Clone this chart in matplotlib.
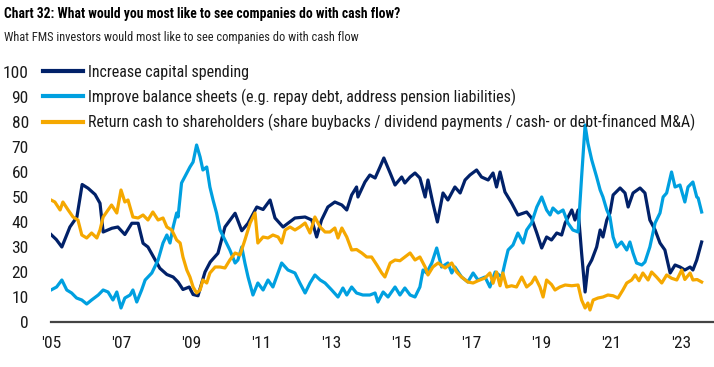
import matplotlib.pyplot as plt

# FMS: what investors want companies to do with cash flow (% of respondents)
capex_years = [2005.00, 2005.15, 2005.31, 2005.54, 2005.74, 2005.89, 2006.06, 2006.26, 2006.40, 2006.49,
               2006.74, 2006.91, 2007.11, 2007.31, 2007.49, 2007.63, 2007.77, 2007.97, 2008.11, 2008.31,
               2008.49, 2008.63, 2008.77, 2008.95, 2009.06, 2009.20, 2009.40, 2009.55, 2009.77, 2009.97,
               2010.26, 2010.45, 2010.63, 2010.88, 2011.06, 2011.26, 2011.40, 2011.63, 2011.97, 2012.26,
               2012.45, 2012.59, 2012.73, 2012.91, 2013.11, 2013.31, 2013.45, 2013.59, 2013.73, 2013.77,
               2013.97, 2014.11, 2014.26, 2014.40, 2014.51, 2014.69, 2014.83, 2015.02, 2015.11, 2015.26,
               2015.40, 2015.54, 2015.69, 2015.77, 2015.91, 2016.04, 2016.20, 2016.34, 2016.54, 2016.69,
               2016.83, 2016.97, 2017.16, 2017.30, 2017.49, 2017.63, 2017.73, 2017.83, 2017.97, 2018.16,
               2018.34, 2018.59, 2018.73, 2018.88, 2019.02, 2019.16, 2019.30, 2019.45, 2019.59, 2019.69,
               2019.88, 2019.97, 2020.06, 2020.16, 2020.26, 2020.34, 2020.45, 2020.59, 2020.69, 2020.77,
               2020.88, 2020.97, 2021.06, 2021.26, 2021.40, 2021.49, 2021.63, 2021.83, 2021.97, 2022.11,
               2022.26, 2022.40, 2022.54, 2022.69, 2022.83, 2022.97, 2023.11, 2023.26, 2023.34, 2023.45,
               2023.59]
capex = [35, 33, 30, 38, 42, 55, 53.5, 51, 47.5, 36,
         37.5, 38, 35, 39.5, 39.5, 31.5, 30, 25, 21.5, 19,
         18, 16, 13, 14, 11, 10.5, 20, 24, 27.5, 38,
         43.5, 36.5, 39.5, 46, 45, 48.8, 41.6, 38, 41.6, 42,
         40.8, 34, 40.8, 46, 48, 46.8, 44.8, 50.8, 54, 50,
         56, 58.8, 57.6, 62, 65.6, 59.6, 54.8, 58, 55.6, 58,
         59.6, 57.6, 50, 56.8, 47.6, 40, 51.6, 48.8, 54, 51.6,
         56.8, 58.8, 60.8, 58, 56.8, 59.6, 54, 60, 52, 47.6,
         42.8, 44, 41.6, 35.6, 29.6, 34, 32.8, 35.6, 34.8, 39.6,
         44.8, 40.8, 44.8, 27.6, 12, 22, 24.8, 30, 36.8, 34,
         40.8, 43.6, 50.8, 53.6, 51.6, 46, 51.6, 53.6, 51.6, 40.8,
         36.8, 31.6, 28.8, 19.6, 22.8, 22, 20.8, 22, 20.8, 24.8,
         32]

balance_years = [2005.00, 2005.16, 2005.31, 2005.45, 2005.59, 2005.73, 2005.88, 2006.02, 2006.16, 2006.35,
                 2006.49, 2006.63, 2006.77, 2006.88, 2007.00, 2007.11, 2007.26, 2007.34, 2007.45, 2007.59,
                 2007.69, 2007.88, 2008.06, 2008.20, 2008.31, 2008.40, 2008.49, 2008.59, 2008.63, 2008.73,
                 2008.88, 2008.97, 2009.06, 2009.16, 2009.26, 2009.34, 2009.45, 2009.54, 2009.63, 2009.73,
                 2009.83, 2009.97, 2010.11, 2010.26, 2010.34, 2010.45, 2010.54, 2010.63, 2010.77, 2010.91,
                 2011.06, 2011.20, 2011.34, 2011.59, 2011.77, 2011.97, 2012.11, 2012.26, 2012.40, 2012.54,
                 2012.69, 2012.83, 2013.02, 2013.20, 2013.34, 2013.45, 2013.59, 2013.73, 2013.91, 2014.11,
                 2014.26, 2014.34, 2014.49, 2014.63, 2014.83, 2014.97, 2015.11, 2015.26, 2015.40, 2015.54,
                 2015.63, 2015.73, 2015.88, 2016.02, 2016.16, 2016.34, 2016.45, 2016.54, 2016.73, 2016.91,
                 2017.06, 2017.20, 2017.40, 2017.54, 2017.69, 2017.88, 2017.97, 2018.06, 2018.20, 2018.34,
                 2018.49, 2018.59, 2018.73, 2018.88, 2019.02, 2019.16, 2019.26, 2019.34, 2019.49, 2019.63,
                 2019.77, 2019.91, 2020.06, 2020.16, 2020.26, 2020.34, 2020.45, 2020.59, 2020.69, 2020.77,
                 2020.88, 2020.97, 2021.06, 2021.16, 2021.30, 2021.45, 2021.54, 2021.63, 2021.73, 2021.88,
                 2021.97, 2022.11, 2022.26, 2022.40, 2022.49, 2022.59, 2022.73, 2022.83, 2022.97, 2023.11,
                 2023.20, 2023.34, 2023.45, 2023.49, 2023.59]
balance = [12.8, 14, 16.8, 12.8, 11.6, 9.6, 8.8, 7.2, 8.8, 10.8,
           12.8, 12, 8.8, 12, 5.6, 9.6, 10.8, 12.8, 8, 12.8,
           16.8, 19.6, 24.8, 31.6, 34.8, 31.6, 38, 43.6, 42, 55.6,
           59.6, 62, 64, 70.8, 66, 60.8, 62, 54, 48.8, 43.6,
           36.8, 32.8, 28.8, 23.6, 24.8, 30, 23.6, 18, 10.8, 15.6,
           12.8, 16.8, 14, 23.6, 20.8, 19.6, 15.6, 11.6, 15.6, 18.8,
           16.8, 15.6, 12.8, 10, 13.6, 10.8, 14, 11.6, 10.8, 10.8,
           11.6, 8, 12, 10, 14, 10.8, 13.6, 10.8, 10, 14,
           20.8, 19.6, 23.6, 29.6, 22, 23.6, 19.6, 22, 18, 16,
           19.6, 16.8, 18, 14, 20, 18, 23.6, 28.8, 30.8, 35.6,
           31.6, 36.8, 39.6, 46, 50, 44.8, 42.8, 45.6, 43.6, 44.8,
           39.6, 36.8, 36, 58, 78.8, 71.6, 64.8, 58, 52.8, 50,
           44.8, 42, 34, 30, 32, 28.8, 32, 27.6, 23.6, 22.8,
           24, 30, 39.6, 43.6, 50, 51.6, 60, 54, 54.8, 48,
           54, 56, 50, 49.6, 44]

returns_years = [2005.00, 2005.11, 2005.26, 2005.34, 2005.49, 2005.63, 2005.77, 2005.88, 2006.02, 2006.16,
                 2006.31, 2006.40, 2006.49, 2006.59, 2006.73, 2006.88, 2007.00, 2007.11, 2007.20, 2007.34,
                 2007.49, 2007.63, 2007.77, 2007.91, 2008.06, 2008.20, 2008.31, 2008.45, 2008.59, 2008.69,
                 2008.77, 2008.88, 2008.97, 2009.06, 2009.16, 2009.26, 2009.34, 2009.45, 2009.54, 2009.69,
                 2009.83, 2009.97, 2010.11, 2010.26, 2010.40, 2010.54, 2010.69, 2010.83, 2010.91, 2011.06,
                 2011.20, 2011.34, 2011.49, 2011.59, 2011.69, 2011.83, 2011.97, 2012.11, 2012.26, 2012.40,
                 2012.54, 2012.69, 2012.83, 2012.97, 2013.11, 2013.20, 2013.31, 2013.45, 2013.59, 2013.73,
                 2013.88, 2014.02, 2014.16, 2014.31, 2014.45, 2014.54, 2014.69, 2014.83, 2014.97, 2015.11,
                 2015.26, 2015.40, 2015.54, 2015.69, 2015.77, 2015.91, 2016.06, 2016.26, 2016.45, 2016.59,
                 2016.73, 2016.91, 2017.06, 2017.20, 2017.40, 2017.54, 2017.63, 2017.73, 2017.83, 2017.91,
                 2018.02, 2018.16, 2018.30, 2018.45, 2018.59, 2018.73, 2018.83, 2018.97, 2019.06, 2019.16,
                 2019.30, 2019.40, 2019.54, 2019.69, 2019.88, 2020.06, 2020.16, 2020.26, 2020.34, 2020.40,
                 2020.49, 2020.63, 2020.77, 2020.91, 2021.06, 2021.20, 2021.34, 2021.45, 2021.59, 2021.69,
                 2021.80, 2021.91, 2022.06, 2022.16, 2022.30, 2022.45, 2022.59, 2022.73, 2022.88, 2023.02,
                 2023.11, 2023.26, 2023.34, 2023.46, 2023.59]
returns = [48.8, 48, 44.8, 48, 44.8, 42, 40.8, 34.8, 33.6, 35.6,
           33.6, 36.8, 42, 44, 46.8, 43.6, 52.8, 48, 48.8, 42,
           41.6, 42.8, 40.8, 44, 40.8, 41.6, 38, 36.8, 32.8, 31.6,
           26, 20.8, 18, 14, 11.6, 12.8, 16.8, 15.6, 19.6, 22,
           22, 21.6, 24.8, 27.6, 26.8, 32.8, 39.6, 43.6, 31.6, 34,
           33.6, 34.8, 34, 31.6, 36.8, 38, 36.8, 38, 39.6, 35.6,
           42, 38, 36, 36, 37.6, 33.6, 37.6, 34, 28.8, 29,
           27.6, 26, 26, 22.8, 19.6, 18, 23.6, 24.8, 24.5, 26,
           27.6, 24.8, 26, 22, 18.8, 22, 23.6, 21.6, 23.6, 20,
           18, 16, 15.6, 16.5, 17.6, 19.6, 15.5, 20, 14.5, 19.6,
           14, 14.5, 14, 18, 14, 15.6, 18, 14, 10, 16.8,
           15, 12.8, 14, 14.8, 14.5, 14.8, 8.8, 5.6, 7.6, 4.8,
           8.8, 9.6, 10, 10.8, 10.5, 9.6, 12.8, 15.6, 16.8, 18.8,
           16.5, 19.6, 16.8, 20, 18, 15.6, 18.8, 17.5, 16.8, 20.8,
           17, 19.6, 16.8, 17, 16]

labels = ['Increase capital spending',
          'Improve balance sheets (e.g. repay debt, address pension liabilities)',
          'Return cash to shareholders (share buybacks / dividend payments / cash- or debt-financed M&A)']
colors = ['#012169', '#00A0E0', '#F5A800']

yticks = list(range(0, 101, 10))
xticks = list(range(2005, 2024, 2))
xticklabels = ["'%02d" % (y % 100) for y in xticks]

FONT = ['Roboto Condensed', 'Liberation Sans Narrow', 'DejaVu Sans Condensed', 'Liberation Sans']
plt.rcParams['font.family'] = FONT
TXT = '#1a1a1a'

fig = plt.figure(figsize=(7.14, 3.67), dpi=100)
ax = fig.add_axes([51 / 714, 45 / 367, 662 / 714, 250 / 367])

for yrs, vals, lab, c in zip([capex_years, balance_years, returns_years],
                             [capex, balance, returns], labels, colors):
    ax.plot(yrs, vals, color=c, lw=2.3, label=lab, solid_joinstyle='round')

ax.set_xlim(2005, 2005 + 662 / 35)
ax.set_ylim(0, 100)
ax.set_yticks(yticks)
ax.set_xticks(xticks)
ax.set_xticklabels(xticklabels)
ax.tick_params(axis='both', length=0, labelsize=12.5, colors=TXT)
ax.tick_params(axis='y', pad=16)
ax.tick_params(axis='x', pad=10)
for s in ['top', 'right', 'left']:
    ax.spines[s].set_visible(False)
ax.spines['bottom'].set_color('#444444')
ax.spines['bottom'].set_linewidth(1.6)

leg = ax.legend(loc='upper left', bbox_to_anchor=(-8 / 662, 1.028), frameon=False,
                fontsize=11.5, handlelength=2.5, handletextpad=0.3, labelspacing=0.53,
                borderpad=0, borderaxespad=0)
for t in leg.get_texts():
    t.set_color(TXT)
for h in leg.get_lines():
    h.set_linewidth(3)

fig.text(4 / 714, 1 - 14 / 367, 'Chart 32: What would you most like to see companies do with cash flow?',
         fontsize=9.8, fontweight='bold', color='black', va='center', ha='left')
fig.text(4 / 714, 1 - 38 / 367, 'What FMS investors would most like to see companies do with cash flow',
         fontsize=8.9, color='#222222', va='center', ha='left')

fig.savefig('out.png', dpi=100)
